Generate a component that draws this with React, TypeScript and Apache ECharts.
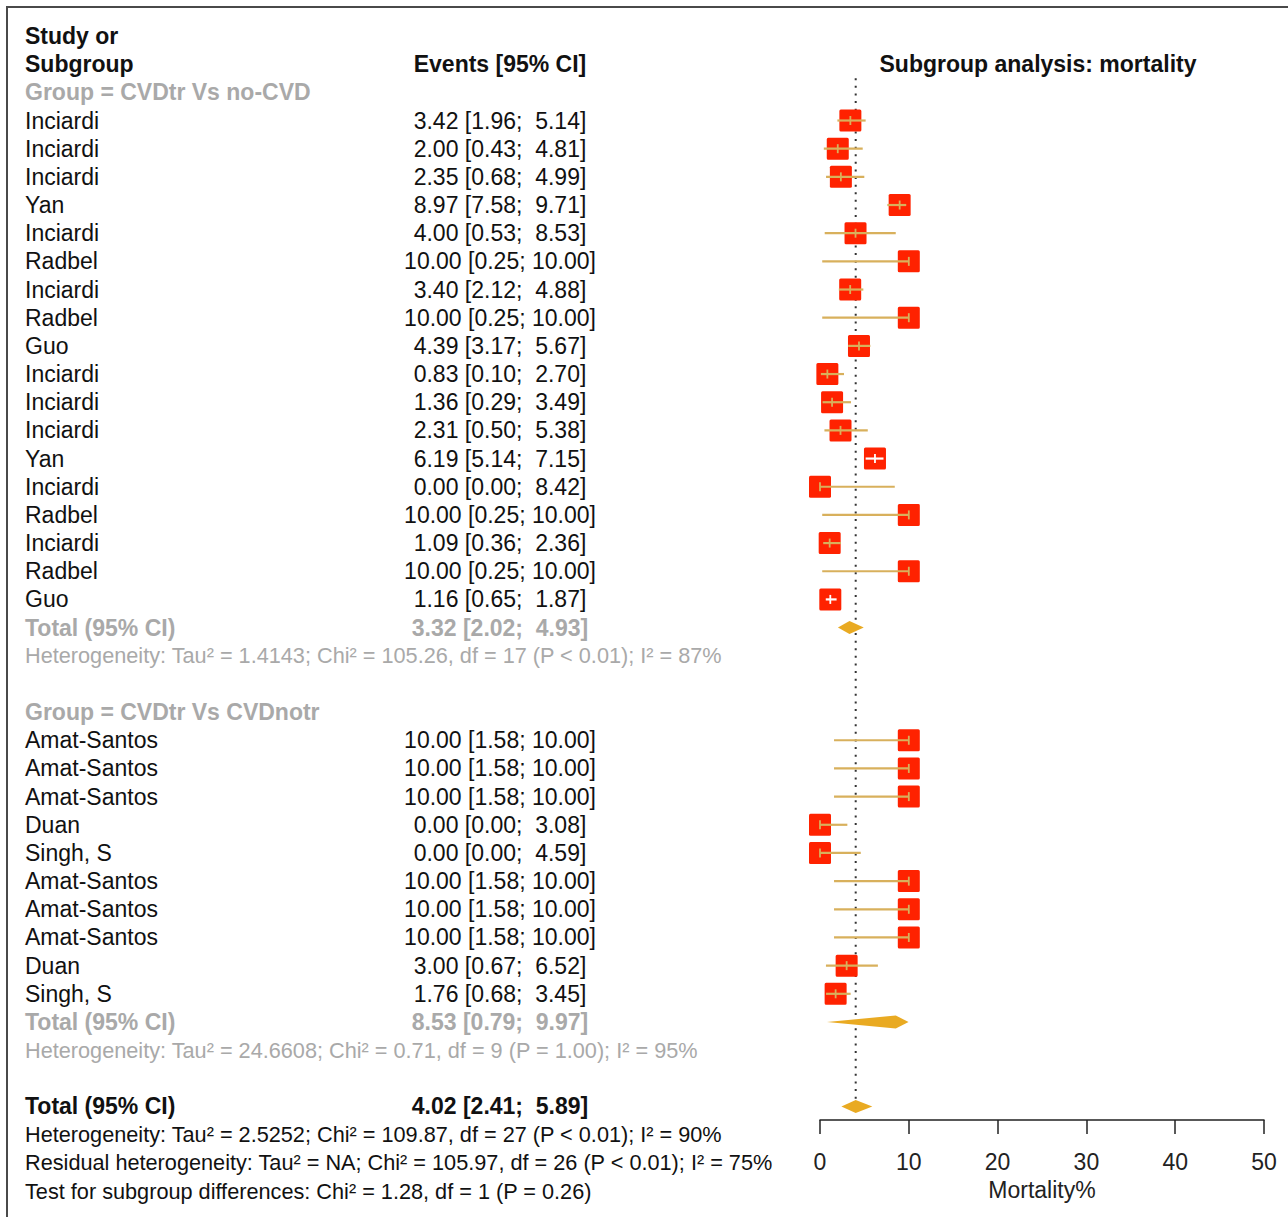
import React, { useEffect, useRef } from "react";
import * as echarts from "echarts";

// ---------- data ----------
const group1Label = "Group = CVDtr Vs no-CVD";
const group1Studies = ["Inciardi", "Inciardi", "Inciardi", "Yan", "Inciardi", "Radbel", "Inciardi", "Radbel", "Guo", "Inciardi", "Inciardi", "Inciardi", "Yan", "Inciardi", "Radbel", "Inciardi", "Radbel", "Guo"];
const group1Est = [3.42, 2.0, 2.35, 8.97, 4.0, 10.0, 3.4, 10.0, 4.39, 0.83, 1.36, 2.31, 6.19, 0.0, 10.0, 1.09, 10.0, 1.16];
const group1Lo = [1.96, 0.43, 0.68, 7.58, 0.53, 0.25, 2.12, 0.25, 3.17, 0.1, 0.29, 0.5, 5.14, 0.0, 0.25, 0.36, 0.25, 0.65];
const group1Hi = [5.14, 4.81, 4.99, 9.71, 8.53, 10.0, 4.88, 10.0, 5.67, 2.7, 3.49, 5.38, 7.15, 8.42, 10.0, 2.36, 10.0, 1.87];
const group1Total = [3.32, 2.02, 4.93];
const group1Het = "Heterogeneity: Tau² = 1.4143; Chi² = 105.26, df = 17 (P < 0.01); I² = 87%";

const group2Label = "Group = CVDtr Vs CVDnotr";
const group2Studies = ["Amat-Santos", "Amat-Santos", "Amat-Santos", "Duan", "Singh, S", "Amat-Santos", "Amat-Santos", "Amat-Santos", "Duan", "Singh, S"];
const group2Est = [10.0, 10.0, 10.0, 0.0, 0.0, 10.0, 10.0, 10.0, 3.0, 1.76];
const group2Lo = [1.58, 1.58, 1.58, 0.0, 0.0, 1.58, 1.58, 1.58, 0.67, 0.68];
const group2Hi = [10.0, 10.0, 10.0, 3.08, 4.59, 10.0, 10.0, 10.0, 6.52, 3.45];
const group2Total = [8.53, 0.79, 9.97];
const group2Het = "Heterogeneity: Tau² = 24.6608; Chi² = 0.71, df = 9 (P = 1.00); I² = 95%";

const overallTotal = [4.02, 2.41, 5.89];
const overallHet = "Heterogeneity: Tau² = 2.5252; Chi² = 109.87, df = 27 (P < 0.01); I² = 90%";
const residualHet = "Residual heterogeneity: Tau² = NA; Chi² = 105.97, df = 26 (P < 0.01); I² = 75%";
const subgroupTest = "Test for subgroup differences: Chi² = 1.28, df = 1 (P = 0.26)";

const xTicks = [0, 10, 20, 30, 40, 50];
const xAxisName = "Mortality%";
const plotTitle = "Subgroup analysis: mortality";
const colHeadStudy = ["Study or", "Subgroup"];
const colHeadEvents = "Events [95% CI]";
const totalLabel = "Total (95% CI)";

// ---------- layout ----------
const W = 1288;
const H = 1217;
const TOP = 36;
const BOTTOM = 26;
const NROWS = 41;
const ROWH = (H - TOP - BOTTOM) / NROWS;
const FONT = '"Liberation Sans", Arial, Helvetica, sans-serif';
const GRAY = "#a9a9a9";
const BLACK = "#111111";
const BOX = "#ff2200";
const CI = "#d8b05c";
const DIAMOND = "#e9aa22";

const fmt = (v: number) => v.toFixed(2);
const pad5 = (s: string) => (s.length < 5 ? " " + s : s);
const ciText = (e: number, l: number, h: number) => `${fmt(e)} [${fmt(l)}; ${pad5(fmt(h))}]`;

// rows
const G1_LABEL_ROW = 2;
const G1_START = 3;
const G1_TOTAL_ROW = G1_START + group1Studies.length; // 21
const G2_LABEL_ROW = G1_TOTAL_ROW + 3; // 24
const G2_START = G2_LABEL_ROW + 1; // 25
const G2_TOTAL_ROW = G2_START + group2Studies.length; // 35
const OVERALL_ROW = G2_TOTAL_ROW + 3; // 38

const rowY = (r: number) => TOP + r * ROWH;

function buildOption() {
  // custom series data: [row, est, lo, hi, kind]  kind 0=study 1=diamond
  const marks: number[][] = [];
  group1Studies.forEach((_, i) => marks.push([G1_START + i, group1Est[i], group1Lo[i], group1Hi[i], 0]));
  marks.push([G1_TOTAL_ROW, group1Total[0], group1Total[1], group1Total[2], 1]);
  group2Studies.forEach((_, i) => marks.push([G2_START + i, group2Est[i], group2Lo[i], group2Hi[i], 0]));
  marks.push([G2_TOTAL_ROW, group2Total[0], group2Total[1], group2Total[2], 1]);
  marks.push([OVERALL_ROW, overallTotal[0], overallTotal[1], overallTotal[2], 1]);

  const texts: any[] = [];
  const addText = (x: number, row: number, text: string, o: any = {}) => {
    texts.push({
      type: "text",
      x,
      y: rowY(row),
      silent: true,
      style: {
        text,
        fontFamily: FONT,
        fontSize: o.fontSize || 23,
        fontWeight: o.bold ? "bold" : "normal",
        fill: o.fill || BLACK,
        align: o.align || "left",
        verticalAlign: "middle",
      },
    });
  };
  const NX = 25;
  const EX = 500;
  const HETFS = 21.7;
  addText(NX, 0, colHeadStudy[0], { bold: true });
  addText(NX, 1, colHeadStudy[1], { bold: true });
  addText(EX, 1, colHeadEvents, { bold: true, align: "center" });
  addText(1038, 1, plotTitle, { bold: true, align: "center" });

  addText(NX, G1_LABEL_ROW, group1Label, { bold: true, fill: GRAY });
  group1Studies.forEach((s, i) => {
    addText(NX, G1_START + i, s);
    addText(EX, G1_START + i, ciText(group1Est[i], group1Lo[i], group1Hi[i]), { align: "center" });
  });
  addText(NX, G1_TOTAL_ROW, totalLabel, { bold: true, fill: GRAY });
  addText(EX, G1_TOTAL_ROW, ciText(group1Total[0], group1Total[1], group1Total[2]), { bold: true, fill: GRAY, align: "center" });
  addText(NX, G1_TOTAL_ROW + 1, group1Het, { fill: GRAY, fontSize: HETFS });

  addText(NX, G2_LABEL_ROW, group2Label, { bold: true, fill: GRAY });
  group2Studies.forEach((s, i) => {
    addText(NX, G2_START + i, s);
    addText(EX, G2_START + i, ciText(group2Est[i], group2Lo[i], group2Hi[i]), { align: "center" });
  });
  addText(NX, G2_TOTAL_ROW, totalLabel, { bold: true, fill: GRAY });
  addText(EX, G2_TOTAL_ROW, ciText(group2Total[0], group2Total[1], group2Total[2]), { bold: true, fill: GRAY, align: "center" });
  addText(NX, G2_TOTAL_ROW + 1, group2Het, { fill: GRAY, fontSize: HETFS });

  addText(NX, OVERALL_ROW, totalLabel, { bold: true });
  addText(EX, OVERALL_ROW, ciText(overallTotal[0], overallTotal[1], overallTotal[2]), { bold: true, align: "center" });
  addText(NX, OVERALL_ROW + 1, overallHet, { fontSize: HETFS });
  addText(NX, OVERALL_ROW + 2, residualHet, { fontSize: HETFS });
  addText(NX, OVERALL_ROW + 3, subgroupTest, { fontSize: HETFS });

  // frame
  texts.unshift({
    type: "rect",
    silent: true,
    shape: { x: 7, y: 7, width: W + 50, height: H + 50 },
    style: { fill: "none", stroke: "#4a4a4a", lineWidth: 2 },
  });

  const BOXHALF = 11;

  return {
    animation: false,
    backgroundColor: "#ffffff",
    grid: { left: 820, right: W - 1264, top: TOP, bottom: BOTTOM, containLabel: false },
    xAxis: {
      type: "value",
      min: xTicks[0],
      max: xTicks[xTicks.length - 1],
      interval: xTicks[1] - xTicks[0],
      offset: -71,
      position: "bottom",
      axisLine: { show: true, onZero: false, lineStyle: { color: "#222", width: 1.5 } },
      axisTick: { show: true, length: 14, lineStyle: { color: "#222", width: 1.5 } },
      splitLine: { show: false },
      axisLabel: { fontFamily: FONT, fontSize: 23, color: "#222", margin: 30 },
      name: xAxisName,
      nameLocation: "middle",
      nameGap: 58,
      nameTextStyle: { fontFamily: FONT, fontSize: 23, color: "#222" },
    },
    yAxis: { type: "value", min: 0, max: NROWS, inverse: true, show: false },
    graphic: texts,
    series: [
      {
        type: "line",
        z: 1,
        silent: true,
        symbol: "none",
        data: [
          [overallTotal[0], 1.5],
          [overallTotal[0], OVERALL_ROW + 0.2],
        ],
        lineStyle: { color: "#333", width: 2, type: [2, 5.6] },
      },
      {
        type: "custom",
        z: 2,
        silent: true,
        data: marks,
        encode: { x: [1, 2, 3], y: 0 },
        renderItem: (params: any, api: any) => {
          const row = api.value(0);
          const est = api.value(1);
          const lo = api.value(2);
          const hi = api.value(3);
          const kind = api.value(4);
          const pE = api.coord([est, row]);
          const pL = api.coord([lo, row]);
          const pH = api.coord([hi, row]);
          if (kind === 1) {
            const hh = 6.5;
            return {
              type: "polygon",
              shape: { points: [[pL[0], pE[1]], [pE[0], pE[1] - hh], [pH[0], pE[1]], [pE[0], pE[1] + hh]] },
              style: { fill: DIAMOND, stroke: "none" },
            };
          }
          const inside = pL[0] >= pE[0] - BOXHALF && pH[0] <= pE[0] + BOXHALF;
          const lc = inside ? "#ffffff" : CI;
          return {
            type: "group",
            children: [
              {
                type: "rect",
                shape: { x: pE[0] - BOXHALF, y: pE[1] - BOXHALF, width: BOXHALF * 2, height: BOXHALF * 2, r: 1.5 },
                style: { fill: BOX, stroke: "none" },
              },
              {
                type: "line",
                shape: { x1: pL[0], y1: pE[1], x2: pH[0], y2: pE[1] },
                style: { stroke: lc, lineWidth: 2.2 },
              },
              {
                type: "line",
                shape: { x1: pE[0], y1: pE[1] - 4.5, x2: pE[0], y2: pE[1] + 4.5 },
                style: { stroke: lc, lineWidth: 1.8 },
              },
            ],
          };
        },
      },
    ],
  };
}

export default function App() {
  const ref = useRef<HTMLDivElement>(null);
  useEffect(() => {
    document.body.style.margin = "0";
    document.body.style.overflow = "hidden";
    const chart = echarts.init(ref.current as HTMLDivElement, null, { renderer: "svg" });
    chart.setOption(buildOption() as any);
    return () => chart.dispose();
  }, []);
  return <div ref={ref} style={{ width: W, height: H }} />;
}
